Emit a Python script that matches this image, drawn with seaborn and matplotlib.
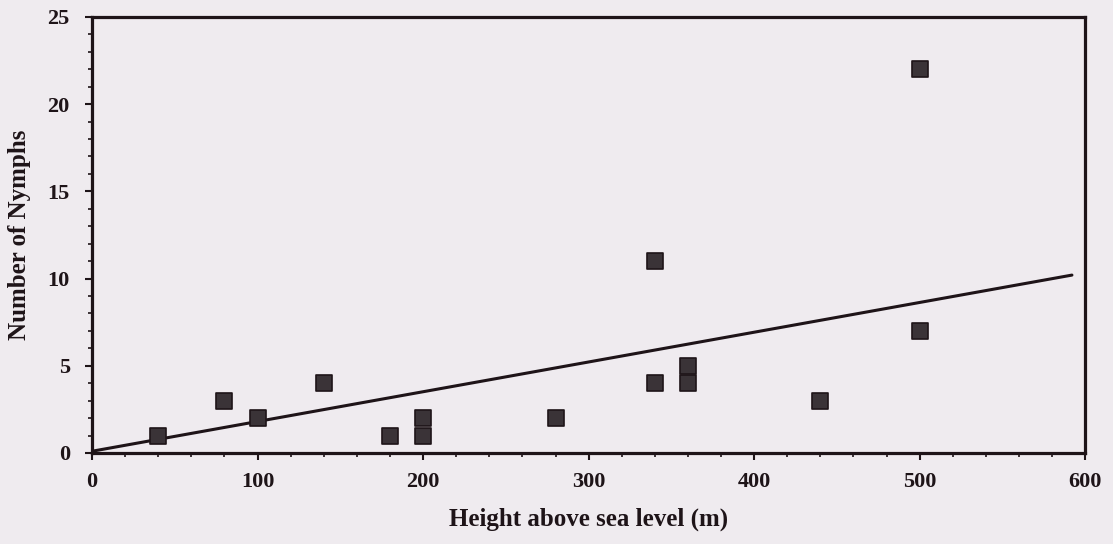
import numpy as np
import pandas as pd
import matplotlib
matplotlib.use("Agg")
import matplotlib.pyplot as plt
import seaborn as sns
from matplotlib.ticker import MultipleLocator

# Data
height_m = [40, 80, 100, 140, 180, 200, 200, 280, 340, 340, 360, 360, 440, 500, 500]
nymphs = [1, 3, 2, 4, 1, 2, 1, 2, 11, 4, 5, 4, 3, 22, 7]
trend_x = [0, 592]
trend_y = [0.1, 10.2]

x_ticks = [0, 100, 200, 300, 400, 500, 600]
y_ticks = [0, 5, 10, 15, 20, 25]

df = pd.DataFrame({"Height": height_m, "Nymphs": nymphs})
trend = pd.DataFrame({"Height": trend_x, "Nymphs": trend_y})

sns.set_theme(style="ticks")
bg = "#efebef"
ink = "#1e1418"
plt.rcParams["font.family"] = ["Liberation Serif", "DejaVu Serif"]
plt.rcParams["font.weight"] = "bold"

fig = plt.figure(figsize=(11.13, 5.44), dpi=100, facecolor=bg)
ax = fig.add_axes([0.0827, 0.1673, 0.8923, 0.8015])
ax.set_facecolor(bg)

sns.lineplot(data=trend, x="Height", y="Nymphs", ax=ax, color=ink, linewidth=2.2)
sns.scatterplot(data=df, x="Height", y="Nymphs", ax=ax, marker="s", s=125,
                color="#3a3337", edgecolor="#1e1418", linewidth=1.2, zorder=3)

ax.set_xlim(0, 600)
ax.set_ylim(0, 25)
ax.set_xticks(x_ticks)
ax.set_yticks(y_ticks)
ax.xaxis.set_minor_locator(MultipleLocator(20))
ax.yaxis.set_minor_locator(MultipleLocator(1))

for side in ["left", "right", "top", "bottom"]:
    ax.spines[side].set_visible(True)
    ax.spines[side].set_linewidth(2.3)
    ax.spines[side].set_color(ink)

ax.tick_params(axis="both", which="major", direction="out", length=5, width=1.5,
               color=ink, labelsize=16, labelcolor=ink)
ax.tick_params(axis="both", which="minor", direction="out", length=3, width=1.2, color=ink)
ax.tick_params(axis="x", which="major", pad=9)
ax.tick_params(axis="y", which="major", pad=11)
for lbl in ax.get_xticklabels() + ax.get_yticklabels():
    lbl.set_fontweight("bold")

ax.set_xlabel("Height above sea level (m)", fontsize=18, fontweight="bold", color=ink, labelpad=11)
ax.set_ylabel("Number of Nymphs", fontsize=18, fontweight="bold", color=ink, labelpad=12)

fig.savefig("out.png", dpi=100, facecolor=bg)
